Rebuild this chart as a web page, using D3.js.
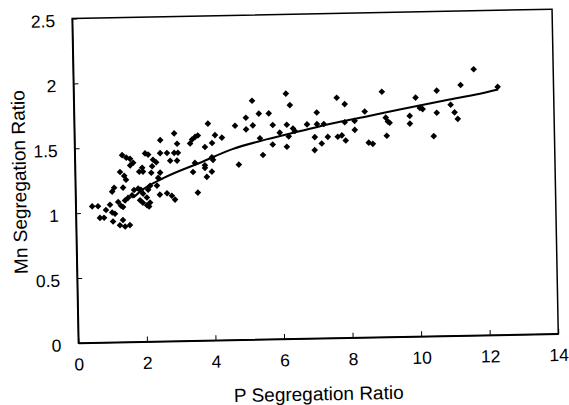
<!DOCTYPE html>
<html>
<head>
<meta charset="utf-8">
<script src="https://cdn.jsdelivr.net/npm/d3@7"></script>
<style>
  html, body { margin: 0; padding: 0; background: #fff; }
  svg { display: block; }
  text { font-family: "Liberation Sans", Arial, sans-serif; fill: #000; }
</style>
</head>
<body>
<svg id="chart" width="569" height="405"></svg>
<script>
// ---- data ----
const xValues = [0.48,0.65,0.70,0.82,0.88,1.00,1.07,1.13,1.06,1.14,1.08,1.24,1.32,1.38,1.28,1.43,1.57,1.37,1.39,1.31,1.43,1.48,1.38,1.50,1.61,1.70,
  1.61,1.53,1.65,1.44,1.71,1.83,1.91,1.97,2.08,1.88,1.96,2.08,2.14,2.17,1.96,1.98,1.87,2.05,2.14,2.18,2.12,2.22,2.25,2.28,2.37,2.38,
  2.42,2.49,2.48,2.46,2.50,2.69,2.78,2.67,2.81,2.90,2.90,2.98,2.91,2.99,3.01,3.37,3.43,3.52,3.60,3.50,3.44,3.57,3.80,3.79,3.79,3.84,
  3.90,4.01,4.10,4.30,4.00,4.03,3.99,4.69,5.01,5.01,5.20,5.21,5.39,5.41,5.68,5.79,5.99,5.78,5.49,4.78,6.19,6.30,6.20,6.25,6.19,6.38,
  6.43,6.79,7.08,7.08,7.28,7.01,7.00,7.21,7.39,7.67,7.90,7.89,7.68,7.80,7.91,8.18,8.18,8.48,8.58,8.70,8.99,9.09,9.15,9.20,9.11,9.79,
  9.79,9.97,10.09,10.17,10.48,10.59,10.58,10.99,11.10,11.19,11.29,11.68,12.37];
const yValues = [1.05,1.05,0.96,0.96,1.02,1.06,1.16,1.19,1.00,0.99,0.93,1.08,1.05,1.04,0.90,0.89,0.90,0.94,1.19,1.31,1.28,1.25,1.44,1.42,1.41,1.38,
  1.36,1.11,1.13,1.09,1.17,1.18,1.17,1.14,1.11,1.09,1.07,1.05,1.04,1.07,1.34,1.31,1.31,1.45,1.44,1.20,1.17,1.30,1.35,1.40,1.38,1.20,
  1.26,1.45,1.30,1.13,1.55,1.45,1.39,1.14,1.12,1.09,1.45,1.39,1.60,1.52,1.45,1.52,1.55,1.57,1.58,1.37,1.30,1.14,1.49,1.35,1.33,1.26,
  1.67,1.52,1.58,1.56,1.41,1.39,1.30,1.65,1.71,1.62,1.84,1.65,1.74,1.55,1.74,1.65,1.59,1.50,1.42,1.35,1.89,1.80,1.65,1.56,1.48,1.62,
  1.60,1.65,1.74,1.65,1.65,1.55,1.45,1.50,1.55,1.85,1.80,1.66,1.55,1.56,1.52,1.67,1.60,1.74,1.50,1.49,1.89,1.69,1.66,1.65,1.55,1.70,
  1.64,1.84,1.76,1.75,1.54,1.89,1.72,1.78,1.72,1.67,1.93,2.05,1.91];
const trendX = [1.68,1.90,2.60,3.65,4.60,5.60,6.60,7.55,8.50,9.50,10.85,11.85,12.38];
const trendY = [1.11,1.16,1.26,1.37,1.47,1.54,1.60,1.655,1.70,1.75,1.815,1.86,1.89];
const xTicks = [0,2,4,6,8,10,12,14];
const yTicks = [0,0.5,1,1.5,2,2.5];
const xTitle = "P Segregation Ratio";
const yTitle = "Mn Segregation Ratio";

// ---- layout ----
const plotLeft = 75.2, plotTop = 13.85, plotW = 480, plotH = 324.5;
const svg = d3.select("#chart");
svg.append("rect").attr("width", 569).attr("height", 405).attr("fill", "#fff");

// the scanned reference is tilted by about 1.1 degrees
const root = svg.append("g").attr("transform", "rotate(-1.1, 315.2, 176.1)");
const g = root.append("g").attr("transform", `translate(${plotLeft},${plotTop})`);

const x = d3.scaleLinear().domain([0, 14]).range([0, plotW]);
const y = d3.scaleLinear().domain([0, 2.5]).range([plotH, 0]);

// axes (inward ticks)
const xAxis = d3.axisBottom(x).tickValues(xTicks).tickFormat(d3.format("d"))
  .tickSizeInner(-5).tickSizeOuter(0).tickPadding(15);
const yAxis = d3.axisLeft(y).tickValues(yTicks).tickFormat(d => String(d))
  .tickSizeInner(-5).tickSizeOuter(0).tickPadding(17);

const gx = g.append("g").attr("transform", `translate(0,${plotH})`).call(xAxis);
const gy = g.append("g").call(yAxis);
[gx, gy].forEach(a => {
  a.selectAll("path.domain").attr("stroke", "#000").attr("stroke-width", 1.5);
  a.selectAll(".tick line").attr("stroke", "#000").attr("stroke-width", 1);
  a.selectAll("text").attr("font-size", 17.5).attr("font-family", "\"Liberation Sans\", Arial, sans-serif").attr("fill", "#000");
});
gy.selectAll("text").attr("dy", "0.45em");

// frame
g.append("rect").attr("x", 0).attr("y", 0).attr("width", plotW).attr("height", plotH)
  .attr("fill", "none").attr("stroke", "#000").attr("stroke-width", 1.5);

// trend line
const trend = trendX.map((d, i) => [d, trendY[i]]);
g.append("path").datum(trend)
  .attr("fill", "none").attr("stroke", "#000").attr("stroke-width", 2)
  .attr("d", d3.line().x(d => x(d[0])).y(d => y(d[1])).curve(d3.curveMonotoneX));

// points
const pts = xValues.map((d, i) => [d, yValues[i]]);
const diamond = d3.symbol().type(d3.symbolDiamond2).size(28);
g.append("g").selectAll("path").data(pts).join("path")
  .attr("transform", d => `translate(${x(d[0])},${y(d[1])})`)
  .attr("d", diamond).attr("fill", "#000");

// titles
g.append("text").attr("x", 314.6 - plotLeft).attr("y", 400.5 - plotTop)
  .attr("text-anchor", "middle").attr("font-size", 19).text(xTitle);
g.append("text").attr("transform", `translate(${25.9 - plotLeft},${176.5 - plotTop}) rotate(-90)`)
  .attr("text-anchor", "middle").attr("font-size", 19).text(yTitle);
</script>
</body>
</html>
